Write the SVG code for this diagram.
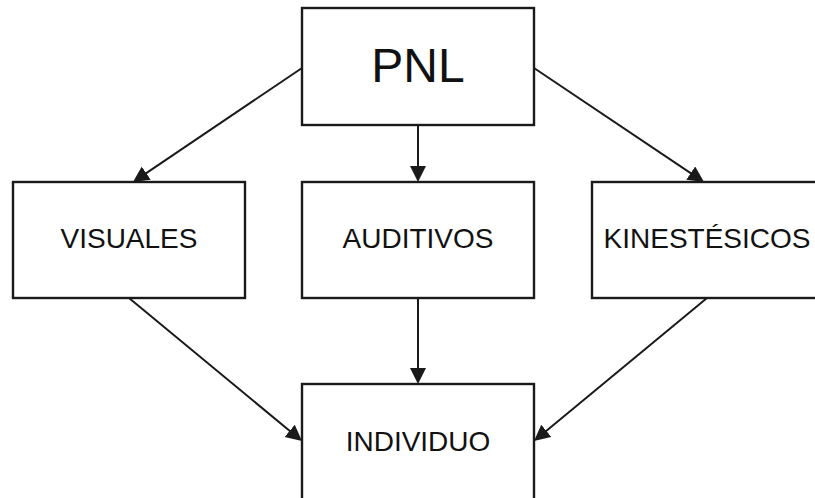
<svg xmlns="http://www.w3.org/2000/svg" width="815" height="498" viewBox="0 0 815 498">
  <defs>
    <style>
      .box { fill: #ffffff; stroke: #1a1a1a; stroke-width: 2.4; }
      .lbl { font-family: "Liberation Sans", Arial, sans-serif; font-size: 28px; fill: #111111; text-anchor: middle; }
      .big { font-size: 48px; }
      .conn { stroke: #1a1a1a; stroke-width: 2; fill: none; marker-end: url(#arrow); }
    </style>
    <marker id="arrow" markerUnits="userSpaceOnUse" markerWidth="18" markerHeight="18" refX="12" refY="8" orient="auto">
      <path d="M0,0 L16,8 L0,16 Z" fill="#1a1a1a"/>
    </marker>
  </defs>
  <rect width="815" height="498" fill="#ffffff"/>
  <g id="connectors">
    <line class="conn" x1="302" y1="68" x2="136.3" y2="179.8"/>
    <line class="conn" x1="418" y1="125" x2="418" y2="178"/>
    <line class="conn" x1="534" y1="68" x2="700.7" y2="179.8"/>
    <line class="conn" x1="129" y1="298" x2="298.9" y2="438.5"/>
    <line class="conn" x1="418" y1="298" x2="418" y2="380"/>
    <line class="conn" x1="707" y1="298" x2="537.1" y2="438.5"/>
  </g>
  <g id="pnl">
    <rect class="box" x="302" y="8" width="232" height="117"/>
    <text class="lbl big" x="418" y="82">PNL</text>
  </g>
  <g id="visuales">
    <rect class="box" x="13" y="182" width="232" height="116"/>
    <text class="lbl" x="129" y="248">VISUALES</text>
  </g>
  <g id="auditivos">
    <rect class="box" x="302" y="182" width="232" height="116"/>
    <text class="lbl" x="418" y="248">AUDITIVOS</text>
  </g>
  <g id="kinestesicos">
    <rect class="box" x="592" y="182" width="232" height="116"/>
    <text class="lbl" x="707" y="248">KINESTÉSICOS</text>
  </g>
  <g id="individuo">
    <rect class="box" x="302" y="384" width="232" height="116"/>
    <text class="lbl" x="418" y="451">INDIVIDUO</text>
  </g>
</svg>
